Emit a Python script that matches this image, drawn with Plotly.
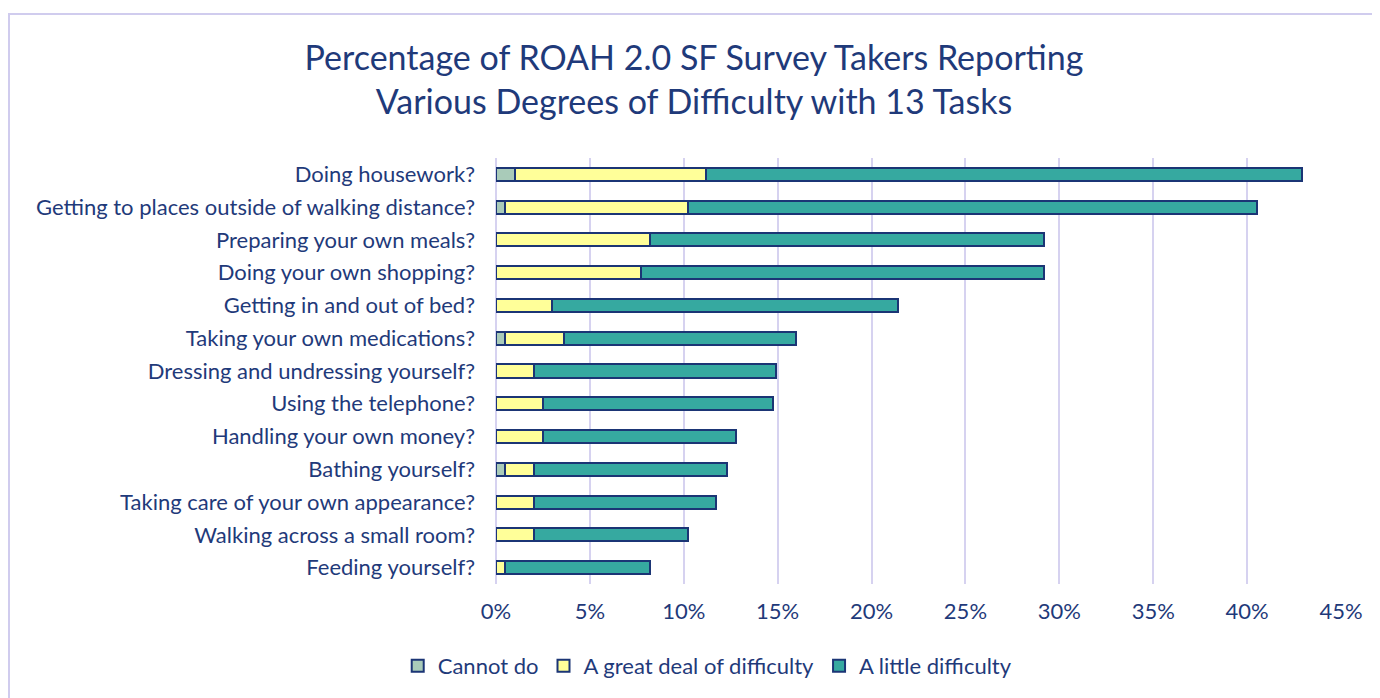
import plotly.graph_objects as go

categories = [
    "Doing housework?",
    "Getting to places outside of walking distance?",
    "Preparing your own meals?",
    "Doing your own shopping?",
    "Getting in and out of bed?",
    "Taking your own medications?",
    "Dressing and undressing yourself?",
    "Using the telephone?",
    "Handling your own money?",
    "Bathing yourself?",
    "Taking care of your own appearance?",
    "Walking across a small room?",
    "Feeding yourself?",
]
cannot_do = [1.0, 0.5, 0.0, 0.0, 0.0, 0.5, 0.0, 0.0, 0.0, 0.5, 0.0, 0.0, 0.0]
great_deal = [10.2, 9.7, 8.2, 7.7, 3.0, 3.1, 2.0, 2.5, 2.5, 1.5, 2.0, 2.0, 0.5]
little = [31.7, 30.3, 21.0, 21.5, 18.4, 12.4, 12.9, 12.25, 10.3, 10.3, 9.7, 8.2, 7.7]
x_ticks = [0, 5, 10, 15, 20, 25, 30, 35, 40, 45]
x_tick_labels = ["0%", "5%", "10%", "15%", "20%", "25%", "30%", "35%", "40%", "45%"]

navy = "#1B3575"
text_color = "#1F3A7A"
font_family = "Lato, 'Open Sans', sans-serif"

fig = go.Figure()
series = [
    ("Cannot do", cannot_do, "#A9CBB9"),
    ("A great deal of difficulty", great_deal, "#FFFF99"),
    ("A little difficulty", little, "#36A9A0"),
]
for name, vals, color in series:
    fig.add_trace(go.Bar(
        y=categories, x=vals, name=name, orientation="h",
        marker=dict(color=color, line=dict(color=navy, width=2)),
    ))

# figure is placed at (8, 8) in the page
W, H = 1372, 690
L, R, T, B = 488, 1333, 150, 576

fig.update_layout(
    width=W, height=H,
    barmode="stack",
    bargap=0.6,
    plot_bgcolor="white",
    paper_bgcolor="white",
    margin=dict(l=L, r=W - R, t=T, b=H - B, autoexpand=False),
    font=dict(family=font_family, color=text_color, size=22),
    title=dict(
        text="Percentage of ROAH 2.0 SF Survey Takers Reporting<br>Various Degrees of Difficulty with 13 Tasks",
        x=0.5, xref="container", xanchor="center",
        y=1 - 62 / H, yanchor="middle",
        font=dict(size=34, color=text_color, family=font_family),
    ),
    xaxis=dict(
        range=[0, 45], tickvals=x_ticks, ticktext=x_tick_labels,
        showgrid=True, gridcolor="#D6D2F0", gridwidth=2,
        zeroline=True, zerolinecolor="#D6D2F0", zerolinewidth=2,
        showline=False, ticks="", tickfont=dict(size=22, color=text_color),
        ticklabelstandoff=12,
        fixedrange=True,
    ),
    yaxis=dict(
        autorange="reversed", showgrid=False, ticks="",
        ticklabelstandoff=20, tickfont=dict(size=22, color=text_color),
        fixedrange=True,
    ),
    legend=dict(
        orientation="h", x=0.51, xanchor="center",
        xref="container", y=(H - 658) / H, yref="container", yanchor="middle",
        font=dict(size=22, color=text_color), traceorder="normal",
        itemwidth=30,
    ),
    showlegend=True,
)

# outer chart frame
fig.add_shape(
    type="rect", xref="paper", yref="paper",
    x0=(1 - L) / (R - L), x1=(1400 - L) / (R - L),
    y0=(B - 720) / (B - T), y1=(B - 6) / (B - T),
    line=dict(color="#D0CCEE", width=2), fillcolor="rgba(0,0,0,0)", layer="below",
)

fig.write_html("out.html")
